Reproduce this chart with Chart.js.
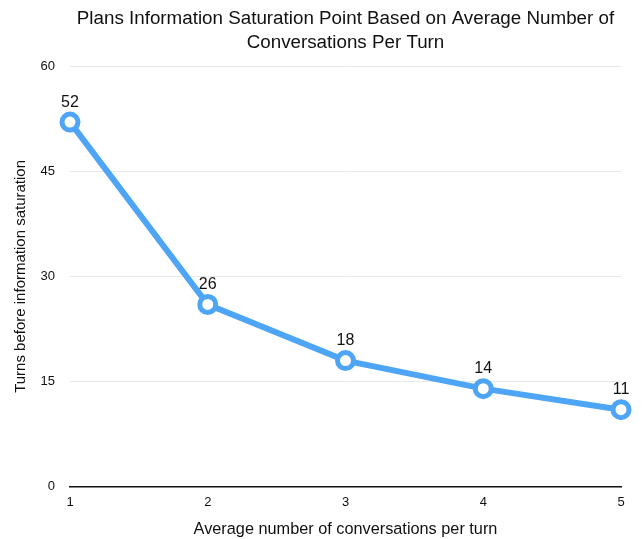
<!DOCTYPE html>
<html>
<head>
<meta charset="utf-8">
<script src="https://cdn.jsdelivr.net/npm/chart.js@4"></script>
<style>
  html, body { margin: 0; padding: 0; background: #fff; }
  #wrap { width: 642px; height: 539px; }
</style>
</head>
<body>
<div id="wrap"><canvas id="chart"></canvas></div>
<script>
const conversations = [1, 2, 3, 4, 5];
const turns = [52, 26, 18, 14, 11];
const yTicks = [0, 15, 30, 45, 60];
const titleLines = ['Plans Information Saturation Point Based on Average Number of', 'Conversations Per Turn'];

const lineBlue = '#4ea5f6';
const fontFamily = '"Liberation Sans", Arial, sans-serif';

// value above each point
const pointLabels = {
    id: 'pointLabels',
    afterDatasetsDraw(chart) {
        const ctx = chart.ctx;
        const meta = chart.getDatasetMeta(0);
        ctx.save();
        ctx.font = '16px ' + fontFamily;
        ctx.fillStyle = '#111';
        ctx.textAlign = 'center';
        ctx.textBaseline = 'middle';
        meta.data.forEach((pt, i) => {
            ctx.fillText(turns[i], pt.x, pt.y - 20);
        });
        ctx.restore();
    }
};

// title centred over the plot area, not the whole canvas
const plotTitle = {
    id: 'plotTitle',
    afterDraw(chart) {
        const ctx = chart.ctx;
        const area = chart.chartArea;
        const cx = (area.left + area.right) / 2;
        ctx.save();
        ctx.font = '18.8px ' + fontFamily;
        ctx.fillStyle = '#111';
        ctx.textAlign = 'center';
        ctx.textBaseline = 'middle';
        titleLines.forEach((line, i) => {
            ctx.fillText(line, cx, 19 + i * 23.5);
        });
        ctx.restore();
    }
};

new Chart(document.getElementById('chart'), {
    type: 'line',
    data: {
        datasets: [{
            data: conversations.map((c, i) => ({ x: c, y: turns[i] })),
            borderColor: lineBlue,
            borderWidth: 6,
            pointRadius: 8,
            pointBorderWidth: 5,
            pointBackgroundColor: '#fff',
            pointBorderColor: lineBlue,
            tension: 0,
            clip: false
        }]
    },
    options: {
        responsive: true,
        maintainAspectRatio: false,
        animation: false,
        layout: { padding: { left: 12, right: 21, top: 66, bottom: 0 } },
        plugins: {
            legend: { display: false },
            tooltip: { enabled: false },
            title: { display: false }
        },
        scales: {
            x: {
                type: 'linear',
                min: 1,
                max: 5,
                afterBuildTicks: axis => { axis.ticks = conversations.map(v => ({ value: v })); },
                grid: { display: false, drawTicks: false },
                border: { display: true, color: '#111', width: 1.5 },
                ticks: { color: '#111', padding: 8, font: { family: fontFamily, size: 13 } },
                title: {
                    display: true,
                    text: 'Average number of conversations per turn',
                    color: '#111',
                    font: { family: fontFamily, size: 16.3 },
                    padding: { top: 1, bottom: 0 }
                }
            },
            y: {
                min: 0,
                max: 60,
                afterBuildTicks: axis => { axis.ticks = yTicks.map(v => ({ value: v })); },
                afterFit: axis => { axis.width = 58; },
                grid: { color: '#e8e8e8', drawTicks: false },
                border: { display: false },
                ticks: { color: '#111', padding: 15, font: { family: fontFamily, size: 13 } },
                title: {
                    display: true,
                    text: 'Turns before information saturation',
                    color: '#111',
                    font: { family: fontFamily, size: 15 },
                    padding: { top: 0, bottom: 0 }
                }
            }
        }
    },
    plugins: [pointLabels, plotTitle]
});
</script>
</body>
</html>
